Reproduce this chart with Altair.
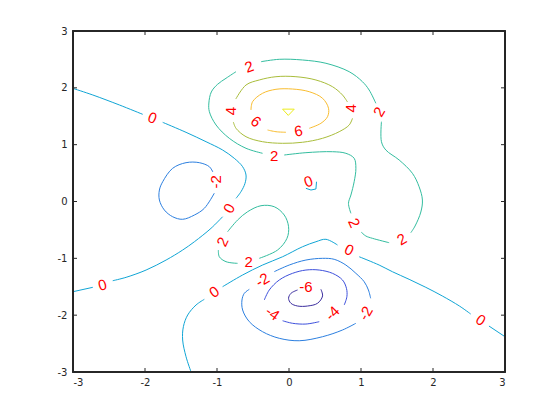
import altair as alt
import pandas as pd

# ---- contour levels and their colours ----
levels = [-6, -4, -2, 0, 2, 4, 6, 8]
level_colors = ["#3a2c9e", "#3d50dc", "#2c7fe0", "#10a5d5",
                "#33bd9f", "#a9bd3b", "#f9bd30", "#ecec1c"]

# ---- contour pieces (data units), split where labels sit ----
lev0_pieces = [
    [(-3.0, 1.99), (-2.725, 1.874), (-2.355, 1.698), (-2.032, 1.534)],
    [(-1.754, 1.393), (-1.430, 1.217), (-1.152, 1.052), (-0.922, 0.906),
     (-0.760, 0.760), (-0.644, 0.612), (-0.597, 0.466), (-0.611, 0.320),
     (-0.667, 0.172), (-0.736, 0.056)],
    [(-0.922, -0.268), (-1.083, -0.472), (-1.314, -0.708), (-1.477, -0.854),
     (-1.707, -1.030), (-1.985, -1.206), (-2.262, -1.334), (-2.448, -1.394)],
    [(-2.725, -1.510), (-3.0, -1.587)],
    [(-1.360, -3.0), (-1.430, -2.731), (-1.477, -2.437), (-1.467, -2.203),
     (-1.407, -1.997), (-1.291, -1.821), (-1.176, -1.721)],
    [(-0.922, -1.499), (-0.644, -1.293), (-0.367, -1.118), (-0.089, -0.972),
     (0.188, -0.796), (0.374, -0.708), (0.513, -0.665), (0.674, -0.766)],
    [(0.975, -0.972), (1.252, -1.118), (1.437, -1.236), (1.668, -1.369),
     (1.900, -1.510), (2.130, -1.663), (2.367, -1.839), (2.524, -1.980)],
    [(2.777, -2.191), (3.0, -2.379)],
]
lev0_small = [(0.382, 0.348), (0.374, 0.220), (0.305, 0.202), (0.235, 0.232)]

lev2_pieces = [
    [(-0.389, 2.460), (-0.135, 2.502), (0.188, 2.490), (0.513, 2.432),
     (0.836, 2.284), (1.020, 2.108), (1.113, 1.962), (1.206, 1.728)],
    [(1.284, 1.404), (1.284, 1.052), (1.345, 0.906), (1.530, 0.730),
     (1.714, 0.496), (1.807, 0.260), (1.853, 0.026), (1.831, -0.185),
     (1.751, -0.431), (1.692, -0.549)],
    [(1.391, -0.725), (1.159, -0.648), (1.067, -0.607), (1.002, -0.537)],
    [(0.860, -0.208), (0.826, -0.032), (0.860, 0.114), (0.905, 0.348),
     (0.929, 0.584), (0.905, 0.760), (0.790, 0.848), (0.604, 0.876),
     (0.235, 0.859), (-0.066, 0.818)],
    [(-0.367, 0.848), (-0.597, 0.936), (-0.829, 1.112), (-1.013, 1.346),
     (-1.106, 1.580), (-1.113, 1.733), (-1.079, 1.927), (-0.995, 2.059),
     (-0.875, 2.168), (-0.736, 2.284)],
    [(-0.853, -0.532), (-0.714, -0.326), (-0.575, -0.180), (-0.389, -0.074),
     (-0.205, -0.092), (-0.066, -0.238), (-0.006, -0.444), (-0.028, -0.648),
     (-0.159, -0.854), (-0.413, -1.000)],
    [(-0.714, -1.088), (-0.875, -1.059), (-0.968, -0.972), (-0.981, -0.854)],
]

lev4_pieces = [
    [(-0.739, 1.803), (-0.597, 2.050), (-0.413, 2.138), (-0.181, 2.196),
     (0.096, 2.196), (0.374, 2.138), (0.604, 2.020), (0.743, 1.874),
     (0.812, 1.751)],
    [(0.882, 1.464), (0.836, 1.346), (0.697, 1.228), (0.466, 1.112),
     (0.188, 1.042), (-0.089, 1.024), (-0.367, 1.052), (-0.597, 1.140),
     (-0.736, 1.288), (-0.773, 1.399)],
]

lev6_pieces = [
    [(0.281, 1.288), (0.443, 1.376), (0.535, 1.492), (0.549, 1.640),
     (0.466, 1.816), (0.281, 1.932), (0.049, 1.979), (-0.181, 1.974),
     (-0.367, 1.904), (-0.506, 1.756), (-0.528, 1.610)],
    [(-0.298, 1.258), (-0.181, 1.228), (-0.042, 1.218)],
]

lev8_tri = [(-0.089, 1.625), (0.073, 1.625), (-0.010, 1.515), (-0.089, 1.625)]

levm2_pieces = [
    [(-1.037, 0.147), (-1.176, -0.120), (-1.314, -0.238), (-1.477, -0.313),
     (-1.616, -0.268), (-1.731, -0.150), (-1.800, 0.026), (-1.800, 0.202),
     (-1.754, 0.348), (-1.616, 0.584), (-1.430, 0.683), (-1.245, 0.683),
     (-1.106, 0.612), (-1.058, 0.519)],
    [(-0.205, -1.235), (0.003, -1.118), (0.235, -1.030), (0.466, -1.000),
     (0.628, -1.017), (0.790, -1.118), (0.929, -1.264), (1.044, -1.411),
     (1.103, -1.557), (1.134, -1.703)],
    [(0.929, -2.143), (0.743, -2.261), (0.466, -2.379), (0.142, -2.450),
     (-0.135, -2.407), (-0.367, -2.291), (-0.551, -2.115), (-0.644, -1.909),
     (-0.653, -1.733), (-0.621, -1.616), (-0.551, -1.545)],
]

levm4_pieces = [
    [(-0.343, -1.733), (-0.274, -1.557), (-0.135, -1.381), (0.049, -1.264),
     (0.235, -1.206), (0.420, -1.206), (0.604, -1.264), (0.743, -1.381),
     (0.798, -1.528), (0.804, -1.675), (0.767, -1.821)],
    [(0.420, -2.115), (0.235, -2.156), (0.049, -2.143), (-0.089, -2.098)],
]

levm6_pieces = [
    [(0.119, -1.557), (0.027, -1.616), (-0.006, -1.703), (0.027, -1.791),
     (0.119, -1.839), (0.258, -1.839), (0.396, -1.791), (0.466, -1.663),
     (0.443, -1.545)],
]

# ---- contour labels ----
label_x = [-1.897, -0.829, -2.591, -1.037, 0.836, 2.663, 0.271,
           -0.551, 1.252, -0.205, 0.905, 1.567, -0.922, -0.561,
           -0.805, 0.860, -0.458, 0.133,
           -1.013, -0.367, 1.067, -0.228, 0.604, 0.235]
label_y = [1.469, -0.120, -1.469, -1.593, -0.854, -2.085, 0.348,
           2.367, 1.575, 0.800, -0.378, -0.665, -0.708, -1.059,
           1.592, 1.640, 1.404, 1.240,
           0.348, -1.381, -1.967, -1.967, -1.967, -1.500]
label_text = ["0", "0", "0", "0", "0", "0", "0",
              "2", "2", "2", "2", "2", "2", "2",
              "4", "4", "6", "6",
              "-2", "-2", "-2", "-4", "-4", "-6"]
label_angle = [20, 300, 345, 325, 25, 33, 340,
               340, 300, 0, 65, 330, 295, 0,
               270, 270, 40, 350,
               270, 330, 300, 35, 315, 0]

# ---- axis ticks ----
tick_values = [-3, -2, -1, 0, 1, 2, 3]

# ---- build tables ----
rows = []
linear_rows = []
groups = [(0, lev0_pieces), (2, lev2_pieces), (4, lev4_pieces),
          (6, lev6_pieces), (-2, levm2_pieces), (-4, levm4_pieces),
          (-6, levm6_pieces)]
sid = 0
for lev, pieces in groups:
    for piece in pieces:
        for i, (px, py) in enumerate(piece):
            rows.append({"x": px, "y": py, "level": lev, "seg": sid, "i": i})
        sid += 1
for lev, piece in [(0, lev0_small), (8, lev8_tri)]:
    for i, (px, py) in enumerate(piece):
        linear_rows.append({"x": px, "y": py, "level": lev, "seg": sid, "i": i})
    sid += 1

lines_df = pd.DataFrame(rows)
linear_df = pd.DataFrame(linear_rows)
labels_df = pd.DataFrame({"x": label_x, "y": label_y,
                          "text": label_text, "angle": label_angle})
ticks_df = pd.DataFrame({"t": tick_values})

W, H = 432, 341
xs = alt.Scale(domain=[-3, 3], nice=False, zero=False)
ys = alt.Scale(domain=[-3, 3], nice=False, zero=False)
cs = alt.Scale(domain=levels, range=level_colors)

x_axis = alt.Axis(values=tick_values, tickSize=0, domain=False, grid=False,
                  labelPadding=5, labelFontSize=10, labelColor="#262626",
                  labelFont="DejaVu Sans", title=None,
                  labelExpr="'' + datum.value")
y_axis = alt.Axis(values=tick_values, tickSize=0, domain=False, grid=False,
                  labelPadding=6, labelFontSize=10, labelColor="#262626",
                  labelFont="DejaVu Sans", title=None,
                  labelExpr="'' + datum.value")

smooth = alt.Chart(lines_df).mark_line(
    strokeWidth=1, interpolate="catmull-rom", clip=True
).encode(
    x=alt.X("x:Q", scale=xs, axis=x_axis),
    y=alt.Y("y:Q", scale=ys, axis=y_axis),
    color=alt.Color("level:O", scale=cs, legend=None),
    detail="seg:N",
    order="i:Q",
)

straight = alt.Chart(linear_df).mark_line(strokeWidth=1, clip=True).encode(
    x=alt.X("x:Q", scale=xs),
    y=alt.Y("y:Q", scale=ys),
    color=alt.Color("level:O", scale=cs, legend=None),
    detail="seg:N",
    order="i:Q",
)

texts = alt.Chart(labels_df).mark_text(
    color="#ff0000", fontSize=15, font="Liberation Sans",
    align="center", baseline="middle"
).encode(
    x=alt.X("x:Q", scale=xs),
    y=alt.Y("y:Q", scale=ys),
    text="text:N",
    angle=alt.Angle("angle:Q", scale=None),
)

tick_color = "#262626"
xt_bottom = alt.Chart(ticks_df).mark_rule(color=tick_color, strokeWidth=1).encode(
    x=alt.X("t:Q", scale=xs), y=alt.value(H), y2=alt.value(H - 4))
xt_top = alt.Chart(ticks_df).mark_rule(color=tick_color, strokeWidth=1).encode(
    x=alt.X("t:Q", scale=xs), y=alt.value(0), y2=alt.value(4))
yt_left = alt.Chart(ticks_df).mark_rule(color=tick_color, strokeWidth=1).encode(
    y=alt.Y("t:Q", scale=ys), x=alt.value(0), x2=alt.value(4))
yt_right = alt.Chart(ticks_df).mark_rule(color=tick_color, strokeWidth=1).encode(
    y=alt.Y("t:Q", scale=ys), x=alt.value(W), x2=alt.value(W - 4))

frame = alt.Chart(ticks_df).mark_rect(
    fill=None, stroke=tick_color, strokeWidth=1.2, fillOpacity=0
).encode(
    x=alt.value(0), x2=alt.value(W), y=alt.value(0), y2=alt.value(H)
)

chart = alt.layer(smooth, straight, texts, xt_bottom, xt_top, yt_left, yt_right,
                  frame).properties(
    width=W, height=H,
    autosize=alt.AutoSizeParams(type="none"),
    padding={"left": 65, "top": 23, "right": 46, "bottom": 40},
).configure_view(
    stroke=None
).configure(background="white")

chart.save("out.html", embed_options={"renderer": "svg", "actions": False})
